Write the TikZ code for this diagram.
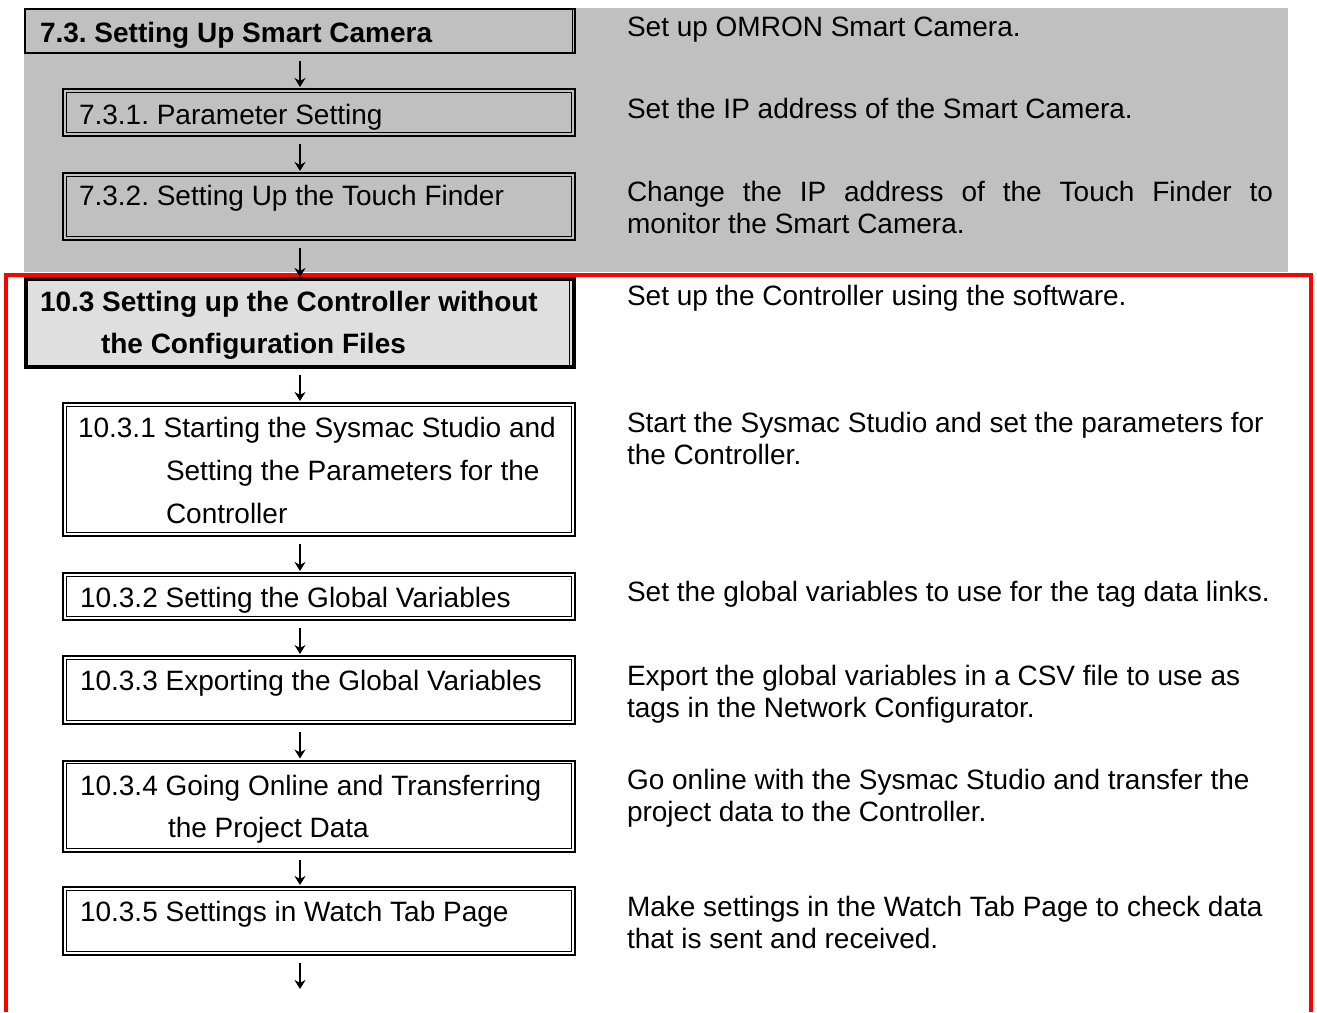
\documentclass[tikz,border=0pt]{standalone}
\usepackage{fontspec}
\setmainfont{Liberation Sans}
\usetikzlibrary{fit,arrows.meta}
\definecolor{panelgray}{HTML}{C0C0C0}
\definecolor{headgray}{HTML}{DFDFDF}
\definecolor{framered}{HTML}{FF0000}
\newcommand{\innerframe}[1]{\draw[line width=0.5pt] ([xshift=1.6pt,yshift=-1.6pt]#1.north west) rectangle ([xshift=-1.6pt,yshift=1.6pt]#1.south east);}
\frenchspacing
\begin{document}
\frenchspacing
\begin{tikzpicture}[x=0.5pt,y=-0.5pt,
  txt/.style={anchor=base west, inner sep=0pt, outer sep=0pt, font=\fontsize{14pt}{16pt}\selectfont\frenchspacing},
  btxt/.style={anchor=base west, inner sep=0pt, outer sep=0pt, font=\fontsize{14pt}{16pt}\selectfont\bfseries\frenchspacing},
  dbox/.style={draw, line width=1pt, inner sep=0pt, outer sep=0pt},
  flow/.style={line width=0.7pt, -{Stealth[length=4.5pt,width=5.5pt]}, shorten <=4pt, shorten >=1pt}
]
\useasboundingbox (0,0) rectangle (1317,1012);
% background panel and red frame
\fill[panelgray] (24,8) rectangle (1288,272);
\draw[framered, line width=2pt] (6,1012) -- (6,274.5) -- (1311,274.5) -- (1311,1012);

% boxes
\node[draw, line width=0.6pt, fill=panelgray, inner sep=0pt, outer sep=0pt, fit={(25,9) (575,53)}] (b73) {};
\draw[line width=0.5pt] (572,9) -- (572,53);
\node[dbox, fill=panelgray, fit={(63,89) (575,136)}] (b731) {};
\innerframe{b731}
\node[dbox, fill=panelgray, fit={(63,173) (575,240)}] (b732) {};
\innerframe{b732}
\node[draw, line width=2pt, fill=headgray, inner sep=0pt, outer sep=0pt, fit={(26,279) (574,367)}] (b103) {};
\draw[line width=0.5pt] (569,281) -- (569,365);
\node[dbox, fill=white, fit={(63,403) (575,536)}] (b1031) {};
\innerframe{b1031}
\node[dbox, fill=white, fit={(63,573) (575,619.5)}] (b1032) {};
\innerframe{b1032}
\node[dbox, fill=white, fit={(63,656) (575,723.5)}] (b1033) {};
\innerframe{b1033}
\node[dbox, fill=white, fit={(63,760.5) (575,851.5)}] (b1034) {};
\innerframe{b1034}
\node[dbox, fill=white, fit={(63,887) (575,955)}] (b1035) {};
\innerframe{b1035}

% connectors
\coordinate (ax) at (300,0);
\coordinate (endpt) at (300,991);
\draw[flow] (b73.south -| ax) -- (b731.north -| ax);
\draw[flow] (b731.south -| ax) -- (b732.north -| ax);
\draw[flow] (b732.south -| ax) -- (b103.north -| ax);
\draw[flow] (b103.south -| ax) -- (b1031.north -| ax);
\draw[flow] (b1031.south -| ax) -- (b1032.north -| ax);
\draw[flow] (b1032.south -| ax) -- (b1033.north -| ax);
\draw[flow] (b1033.south -| ax) -- (b1034.north -| ax);
\draw[flow] (b1034.south -| ax) -- (b1035.north -| ax);
\draw[flow] (b1035.south -| ax) -- (endpt);

% box texts
\node[btxt] (t73) at (40,42) {7.3. Setting Up Smart Camera};
\node[txt] (t731) at (79,124) {7.3.1. Parameter Setting};
\node[txt] (t732) at (79,205) {7.3.2. Setting Up the Touch Finder};
\node[btxt] (t103a) at (40,311) {10.3 Setting up the Controller without};
\node[btxt] (t103b) at (101,353) {the Configuration Files};
\node[txt] (t1031a) at (78,437) {10.3.1 Starting the Sysmac Studio and};
\node[txt] (t1031b) at (166,480) {Setting the Parameters for the};
\node[txt] (t1031c) at (166,523) {Controller};
\node[txt] (t1032) at (80,607) {10.3.2 Setting the Global Variables};
\node[txt] (t1033) at (80,690) {10.3.3 Exporting the Global Variables};
\node[txt] (t1034a) at (80,795) {10.3.4 Going Online and Transferring};
\node[txt] (t1034b) at (168,837) {the Project Data};
\node[txt] (t1035) at (80,921) {10.3.5 Settings in Watch Tab Page};

% descriptions
\node[txt] (r1) at (627,36) {Set up OMRON Smart Camera.};
\node[txt] (r2) at (627,118) {Set the IP address of the Smart Camera.};
\node[txt] (r3a) at (627,201) {\makebox[323pt][s]{Change the IP address of the Touch Finder to}};
\node[txt] (r3b) at (627,233) {monitor the Smart Camera.};
\node[txt] (r4) at (627,305) {Set up the Controller using the software.};
\node[txt] (r5a) at (627,432) {Start the Sysmac Studio and set the parameters for};
\node[txt] (r5b) at (627,464) {the Controller.};
\node[txt] (r6) at (627,601) {Set the global variables to use for the tag data links.};
\node[txt] (r7a) at (627,685) {Export the global variables in a CSV file to use as};
\node[txt] (r7b) at (627,717) {tags in the Network Configurator.};
\node[txt] (r8a) at (627,789) {Go online with the Sysmac Studio and transfer the};
\node[txt] (r8b) at (627,821) {project data to the Controller.};
\node[txt] (r9a) at (627,916) {Make settings in the Watch Tab Page to check data};
\node[txt] (r9b) at (627,948) {that is sent and received.};
\end{tikzpicture}
\end{document}
